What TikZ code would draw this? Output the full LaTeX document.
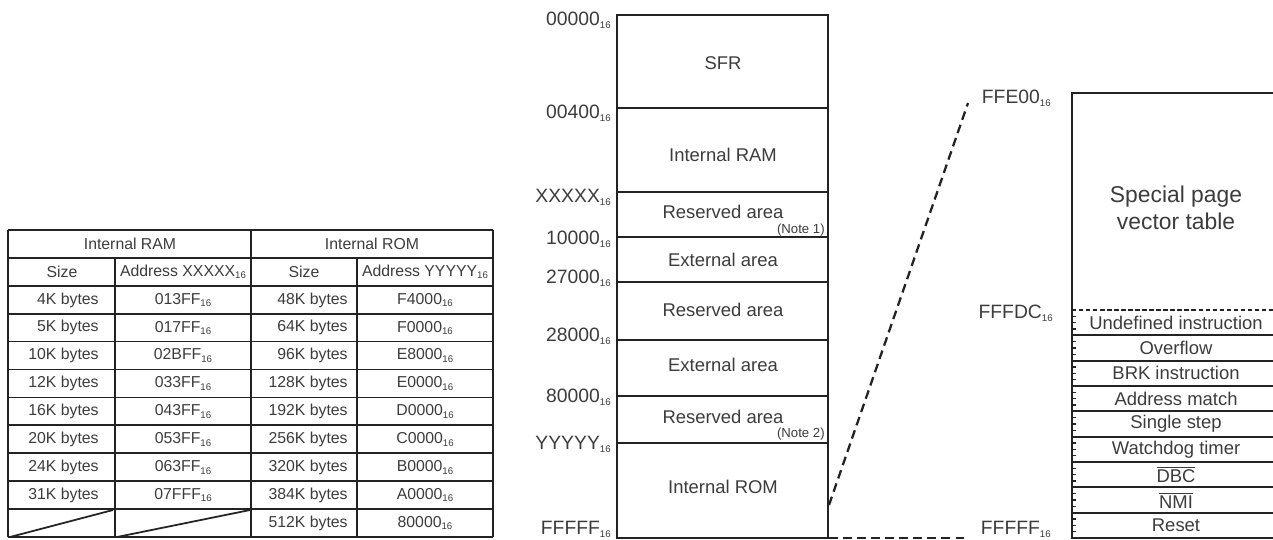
\documentclass[tikz,border=0pt]{standalone}
\usepackage{fontspec}
\setmainfont{Liberation Sans}
\usepackage{tikz}
\usetikzlibrary{positioning,calc}
\definecolor{inkcol}{RGB}{35,35,35}
\definecolor{txtcol}{RGB}{60,60,60}
\newcommand{\sixteen}{\raisebox{-0.3ex}{\fontsize{5.5}{6}\selectfont 16}}
\newcommand{\hexa}[1]{#1\sixteen}
\tikzset{
  % table cell text
  celltxt/.style={font=\fontsize{9}{10}\selectfont, text=txtcol, inner sep=0pt},
  % address label beside a map
  addrlbl/.style={font=\fontsize{11}{12}\selectfont, text=txtcol, anchor=east, inner sep=0pt},
  % text inside a map area
  areatxt/.style={font=\fontsize{10.5}{11}\selectfont, text=txtcol, inner sep=0pt},
  % note under an area name
  notetxt/.style={font=\fontsize{7.5}{8}\selectfont, text=txtcol, anchor=east, inner sep=0pt},
  % vector entry text
  vectxt/.style={font=\fontsize{10.5}{11}\selectfont, text=txtcol, inner sep=0pt},
  % outline of maps and tables
  boxline/.style={line width=1pt, draw=inkcol},
  % link from the map to its enlarged part
  zoomlink/.style={line width=1.3pt, draw=inkcol, dash pattern=on 5pt off 3pt},
}

\begin{document}
\begin{tikzpicture}[x=0.02cm, y=-0.02cm]
  \useasboundingbox (0,0) rectangle (1273,539);

  % size table
  \foreach \r in {0,...,11}
    \draw[boxline] (8,230+27.9*\r) -- (493,230+27.9*\r);
  \draw[boxline] (8,230) -- (8,537) (251,230) -- (251,537) (493,230) -- (493,537);
  \draw[boxline] (115,258) -- (115,537) (357,258) -- (357,537);
  \draw[boxline] (10,537) -- (113,510) (117,537) -- (250,510);
  \node[celltxt] (ramhead) at (130,244) {Internal RAM};
  \node[celltxt] (romhead) at (372,244) {Internal ROM};
  \node[celltxt] (ramsize) at (62,272) {Size};
  \node[celltxt] (ramaddr) at (183,272) {Address \hexa{XXXXX}};
  \node[celltxt] (romsize) at (304,272) {Size};
  \node[celltxt] (romaddr) at (425,272) {Address \hexa{YYYYY}};
  \foreach \sz/\ad [count=\i] in {4K/013FF,5K/017FF,10K/02BFF,12K/033FF,16K/043FF,20K/053FF,24K/063FF,31K/07FFF} {
    \node[celltxt, anchor=east] (ramsz\i) at (99,272+27.9*\i) {\sz\ bytes};
    \node[celltxt] (ramad\i) at (183,272+27.9*\i) {\hexa{\ad}};
  }
  \foreach \sz/\ad [count=\i] in {48K/F4000,64K/F0000,96K/E8000,128K/E0000,192K/D0000,256K/C0000,320K/B0000,384K/A0000,512K/80000} {
    \node[celltxt, anchor=east] (romsz\i) at (348,272+27.9*\i) {\sz\ bytes};
    \node[celltxt] (romad\i) at (425,272+27.9*\i) {\hexa{\ad}};
  }

  % memory map
  \draw[boxline] (617,15) rectangle (828,538);
  \foreach \y in {108,192,237,282,340,396,443}
    \draw[boxline] (617,\y) -- (828,\y);
  \node[addrlbl] (a00000) at (611,20) {\hexa{00000}};
  \node[addrlbl] (a00400) at (611,113) {\hexa{00400}};
  \node[addrlbl] (axxxxx) at (611,197) {\hexa{XXXXX}};
  \node[addrlbl] (a10000) at (611,239) {\hexa{10000}};
  \node[addrlbl] (a27000) at (611,278) {\hexa{27000}};
  \node[addrlbl] (a28000) at (611,336) {\hexa{28000}};
  \node[addrlbl] (a80000) at (611,397) {\hexa{80000}};
  \node[addrlbl] (ayyyyy) at (611,444) {\hexa{YYYYY}};
  \node[addrlbl] (afffff) at (611,529) {\hexa{FFFFF}};
  \node[areatxt] (sfr) at (723,63) {SFR};
  \node[areatxt] (iram) at (723,155) {Internal RAM};
  \node[areatxt] (resv1) at (723,212) {Reserved area};
  \node[notetxt] (note1) at (825,230) {(Note 1)};
  \node[areatxt] (ext1) at (723,260) {External area};
  \node[areatxt] (resv2) at (723,310) {Reserved area};
  \node[areatxt] (ext2) at (723,365) {External area};
  \node[areatxt] (resv3) at (723,417) {Reserved area};
  \node[notetxt] (note2) at (825,434) {(Note 2)};
  \node[areatxt] (irom) at (723,487) {Internal ROM};

  % enlarged top of ROM
  \node[addrlbl] (vfe00) at (1051,98) {\hexa{FFE00}};
  \node[addrlbl] (vfdc) at (1053,313) {\hexa{FFFDC}};
  \node[addrlbl] (vfff) at (1051,529) {\hexa{FFFFF}};
  \draw[boxline] (1275,93) -- (1072,93) -- (1072,538) -- (1275,538);
  \draw[line width=1pt, draw=inkcol, dash pattern=on 2.5pt off 1.5pt] (1072,310) -- (1273,310);
  \foreach \k in {1,...,8}
    \draw[boxline] (1072,310+25.33*\k) -- (1275,310+25.33*\k);
  \foreach \k in {1,...,35}
    \draw[line width=0.7pt, draw=inkcol] (1072,310+6.333*\k) -- ++(4,0);
  \node[font=\fontsize{13}{15}\selectfont, text=txtcol, align=center] (spvt) at (1176,208) {Special page\\vector table};
  \foreach \v [count=\i] in {Undefined instruction,Overflow,BRK instruction,Address match,Single step,Watchdog timer,$\overline{\mbox{DBC}}$,$\overline{\mbox{NMI}}$,Reset}
    \node[vectxt] (vec\i) at (1176,310+25.33*\i-12.7) {\v};

  % links between the two views
  \coordinate (maptap) at (829,505);
  \coordinate (vectop) at (968,103);
  \coordinate (mapbot) at (829,538);
  \coordinate (vecbot) at (967,538);
  \draw[zoomlink] (maptap) -- (vectop);
  \draw[zoomlink] (mapbot) -- (vecbot);
\end{tikzpicture}
\end{document}
